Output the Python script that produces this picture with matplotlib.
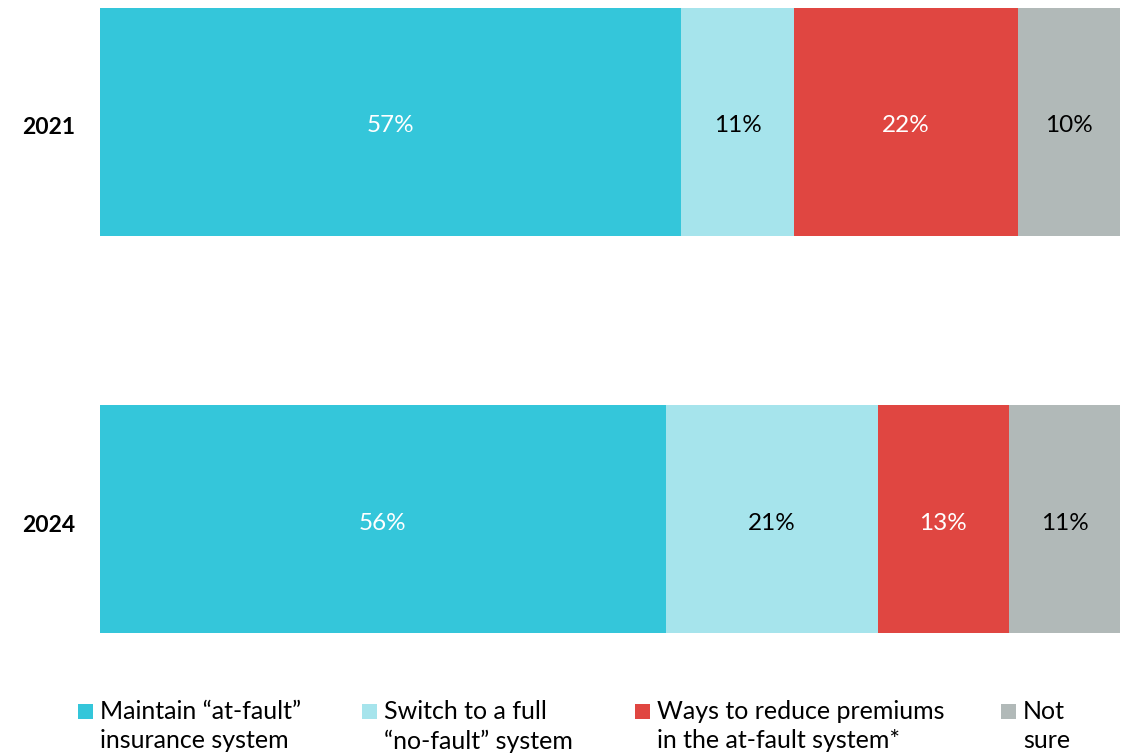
import matplotlib.pyplot as plt
from matplotlib.patches import Rectangle
import numpy as np

plt.rcParams['font.family'] = ['Lato', 'DejaVu Sans']

years = ['2021', '2024']
categories = ['Maintain “at-fault”\ninsurance system',
              'Switch to a full\n“no-fault” system',
              'Ways to reduce premiums\nin the at-fault system*',
              'Not\nsure']
values = {
    '2021': [57, 11, 22, 10],
    '2024': [56, 21, 13, 11],
}
colors = ['#34C6DA', '#A6E4EC', '#E04641', '#B1B9B8']
label_colors = ['white', 'black', 'white', 'black']

W, H = 1133, 754
fig = plt.figure(figsize=(W / 100, H / 100), dpi=100)
ax = fig.add_axes([100 / W, 1 - 633 / H, 1020 / W, 625 / H])

bar_h = 0.574
ypos = {'2021': 1, '2024': 0}
for yr in years:
    v = np.array(values[yr], dtype=float)
    share = v / v.sum() * 100  # each bar fills the full width
    left = 0
    for i, (val, s) in enumerate(zip(v, share)):
        ax.barh(ypos[yr], s, left=left, height=bar_h, color=colors[i], linewidth=0)
        ax.text(left + s / 2, ypos[yr] - 0.01, f'{int(val)}%', ha='center',
                va='center', color=label_colors[i], fontsize=17.5)
        left += s

ax.set_xlim(0, 100)
ax.set_ylim(-bar_h / 2, 1 + bar_h / 2)
ax.set_yticks([ypos[y] - 0.01 for y in years])
ax.set_yticklabels(years, fontsize=16.5, fontweight='bold')
ax.tick_params(axis='y', length=0, pad=18)
ax.set_xticks([])
for sp in ax.spines.values():
    sp.set_visible(False)

# legend drawn by hand so the swatch sits beside the first line
leg_x = [78, 362, 635, 1001]
for x, lab, c in zip(leg_x, categories, colors):
    fig.patches.append(Rectangle((x / W, 1 - 719 / H), 15 / W, 15 / H,
                                 transform=fig.transFigure, color=c, linewidth=0))
    fig.text((x + 22) / W, 1 - 700 / H, lab, ha='left', va='top',
             fontsize=18, linespacing=1.32)

fig.savefig('out.png', dpi=100)
